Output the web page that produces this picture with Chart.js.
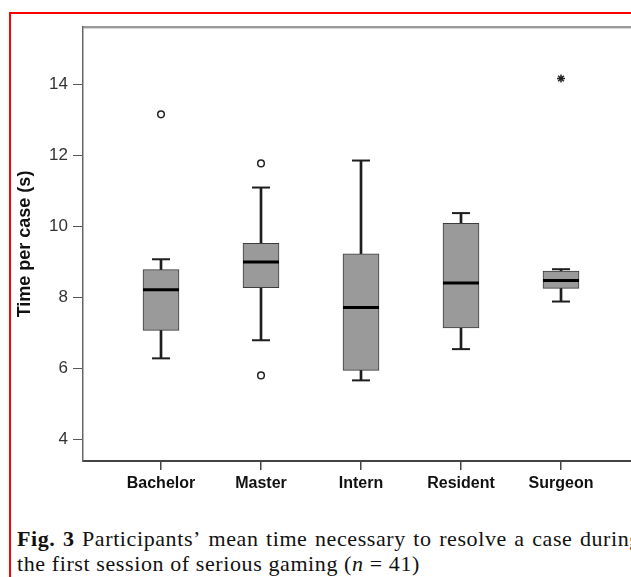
<!DOCTYPE html>
<html>
<head>
  <meta charset="utf-8">
  <title>Time per case</title>
  <script src="https://cdn.jsdelivr.net/npm/chart.js"></script>
  <style>
    html, body { margin: 0; padding: 0; background: #fff; }
    body { width: 631px; height: 577px; overflow: hidden; position: relative; }
    .red-frame {
      position: absolute; left: 9px; top: 12px;
      width: 700px; height: 700px;
      border: 2px solid #ff0000;
      pointer-events: none;
    }
    .chart-box { position: absolute; left: 0; top: 0; width: 680px; height: 500px; }
    .caption {
      position: absolute; left: 17px; top: 526px; width: 624px;
      font-family: 'Liberation Serif', 'Times New Roman', serif;
      font-size: 22px; line-height: 25px; letter-spacing: 0.6px; color: #111;
    }
    .caption .l1 { display: flex; justify-content: space-between; white-space: nowrap; }
    .caption .l2 { white-space: nowrap; }
  </style>
</head>
<body>
  <div class="chart-box"><canvas id="boxChart"></canvas></div>
  <div class="caption">
    <div class="l1"><b>Fig.</b><b>3</b><span>Participants’</span><span>mean</span><span>time</span><span>necessary</span><span>to</span><span>resolve</span><span>a</span><span>case</span><span>during</span></div>
    <div class="l2">the first session of serious gaming (<i>n</i> = 41)</div>
  </div>
  <div class="red-frame"></div>

  <script>
    // valeurs
    var categories = ['Bachelor', 'Master', 'Intern', 'Resident', 'Surgeon'];
    var whiskerLow = [6.28, 6.79, 5.66, 6.54, 7.88];
    var q1 = [7.07, 8.27, 5.94, 7.14, 8.25];
    var median = [8.21, 8.99, 7.71, 8.40, 8.47];
    var q3 = [8.78, 9.52, 9.22, 10.08, 8.74];
    var whiskerHigh = [9.07, 11.09, 11.85, 10.37, 8.79];
    var outlierCat = [0, 1, 1];
    var outlierVal = [13.15, 11.77, 5.80];
    var extremeCat = [4];
    var extremeVal = [14.16];
    var yTicks = [4, 6, 8, 10, 12, 14];

    var sansFont = 'Liberation Sans, Arial, sans-serif';

    // cadre gris du graphique (haut et droite)
    var framePlugin = {
      id: 'frame',
      beforeDatasetsDraw: function(chart) {
        var a = chart.chartArea, ctx = chart.ctx;
        ctx.save();
        ctx.strokeStyle = '#7a7a7a';
        ctx.lineWidth = 1.5;
        ctx.beginPath();
        ctx.moveTo(a.left, a.top);
        ctx.lineTo(a.right, a.top);
        ctx.lineTo(a.right, a.bottom);
        ctx.stroke();
        ctx.strokeStyle = '#d4d4d4';
        ctx.lineWidth = 1;
        ctx.beginPath();
        ctx.moveTo(a.left + 1, a.top + 1.5);
        ctx.lineTo(a.right, a.top + 1.5);
        ctx.stroke();
        ctx.restore();
      }
    };

    var boxData = categories.map(function(c, i) { return { x: i, y: [q1[i], q3[i]] }; });
    var whiskerData = categories.map(function(c, i) { return { x: i, y: [whiskerLow[i], whiskerHigh[i]] }; });
    var medianData = categories.map(function(c, i) { return { x: i, y: median[i] }; });
    var capData = [];
    categories.forEach(function(c, i) {
      capData.push({ x: i, y: whiskerLow[i] });
      capData.push({ x: i, y: whiskerHigh[i] });
    });
    var outlierData = outlierCat.map(function(c, i) { return { x: c, y: outlierVal[i] }; });
    var extremeData = extremeCat.map(function(c, i) { return { x: c, y: extremeVal[i] }; });

    var chart = new Chart(document.getElementById('boxChart'), {
      type: 'bar',
      data: {
        datasets: [
          {
            type: 'scatter', data: medianData, order: 0,
            pointStyle: 'line', pointRadius: 18, pointHoverRadius: 18,
            pointBorderWidth: 3, pointBorderColor: '#000'
          },
          {
            type: 'scatter', data: outlierData, order: 0,
            pointStyle: 'circle', pointRadius: 3.3, pointHoverRadius: 3.3,
            pointBorderWidth: 1.5, pointBorderColor: '#222', pointBackgroundColor: '#fff'
          },
          {
            type: 'scatter', data: extremeData, order: 0,
            pointStyle: 'star', pointRadius: 4, pointHoverRadius: 4,
            pointBorderWidth: 1.5, pointBorderColor: '#222'
          },
          {
            type: 'scatter', data: capData, order: 1,
            pointStyle: 'line', pointRadius: 9, pointHoverRadius: 9,
            pointBorderWidth: 2, pointBorderColor: '#1e1e1e'
          },
          {
            type: 'bar', data: boxData, order: 2, grouped: false,
            barThickness: 36, backgroundColor: '#9a9a9a',
            borderColor: '#3c3c3c', borderWidth: 1, borderSkipped: false
          },
          {
            type: 'bar', data: whiskerData, order: 3, grouped: false,
            barThickness: 2, backgroundColor: '#1e1e1e', borderWidth: 0
          }
        ]
      },
      options: {
        responsive: true,
        maintainAspectRatio: false,
        animation: false,
        events: [],
        layout: { padding: { left: 10, top: 27, right: 41, bottom: 0 } },
        plugins: { legend: { display: false }, tooltip: { enabled: false } },
        scales: {
          x: {
            type: 'linear', min: -0.78, max: 4.78, offset: false,
            afterBuildTicks: function(s) { s.ticks = categories.map(function(c, i) { return { value: i }; }); },
            afterFit: function(s) { s.height = 39; },
            ticks: {
              callback: function(v) { return categories[v]; },
              font: { family: sansFont, size: 16, weight: 'bold' },
              color: '#111', padding: 4, autoSkip: false, maxRotation: 0
            },
            grid: { offset: false, drawOnChartArea: false, tickLength: 9, color: '#444', lineWidth: 1.5 },
            border: { color: '#444', width: 2 }
          },
          y: {
            type: 'linear', min: 3.39, max: 15.61,
            afterBuildTicks: function(s) { s.ticks = yTicks.map(function(v) { return { value: v }; }); },
            afterFit: function(s) { s.width = 73; },
            ticks: {
              callback: function(v) { return String(v); },
              font: { family: sansFont, size: 17 },
              color: '#333', padding: 5
            },
            grid: { drawOnChartArea: false, tickLength: 10, color: '#555', lineWidth: 1 },
            border: { color: '#666', width: 1.5 },
            title: {
              display: true, text: 'Time per case (s)',
              font: { family: sansFont, size: 18, weight: 'bold' },
              color: '#111', padding: { top: 4, bottom: 0 }
            }
          }
        }
      },
      plugins: [framePlugin]
    });
  </script>
</body>
</html>
